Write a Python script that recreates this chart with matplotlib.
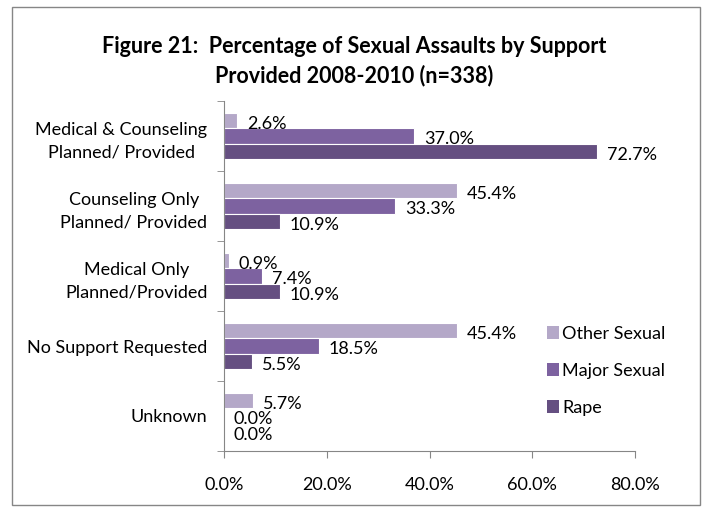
import numpy as np
import matplotlib
matplotlib.use("Agg")
import matplotlib.pyplot as plt
from matplotlib.patches import Patch, Rectangle

# -----------------------------
# Data
# -----------------------------
categories = [
    "Medical & Counseling\nPlanned/ Provided",
    "Counseling Only\nPlanned/ Provided",
    "Medical Only\nPlanned/Provided",
    "No Support Requested",
    "Unknown",
]
series_names = ["Other Sexual", "Major Sexual", "Rape"]
other_sexual = [2.6, 45.4, 0.9, 45.4, 5.7]
major_sexual = [37.0, 33.3, 7.4, 18.5, 0.0]
rape = [72.7, 10.9, 10.9, 5.5, 0.0]
x_ticks = [0, 20, 40, 60, 80]

colors = ["#B4A8C8", "#7D62A0", "#654F81"]
axis_grey = "#868686"

plt.rcParams["font.family"] = ["Lato", "DejaVu Sans"]

fig = plt.figure(figsize=(7.09, 5.12), dpi=100)
W, H = 709, 512
ax = fig.add_axes([224 / W, 1 - 451 / H, (635 - 224) / W, (451 - 101) / H])

# chart area border
fig.patches.append(Rectangle((12 / W, 1 - 505 / H), (700 - 12) / W, (505 - 7) / H,
                             transform=fig.transFigure, fill=False,
                             edgecolor=axis_grey, linewidth=1))

y = np.arange(len(categories))
h = 0.22
for k, (vals, name) in enumerate(zip([other_sexual, major_sexual, rape], series_names)):
    pos = y + (k - 1) * h
    ax.barh(pos, vals, height=h, color=colors[k], edgecolor="white",
            linewidth=0.8, label=name)
    for p, v in zip(pos, vals):
        ax.annotate(f"{v:.1f}%", (v, p), xytext=(7, -2.5), textcoords="offset points",
                    ha="left", va="center", fontsize=13)

ax.set_xlim(0, 80)
ax.set_ylim(len(categories) - 0.5, -0.5)
ax.set_xticks(x_ticks)
ax.set_xticklabels([f"{t:.1f}%" for t in x_ticks], fontsize=13)
ax.set_yticks(y)
ax.set_yticklabels(categories, fontsize=13, linespacing=1.55)
for lbl in ax.get_yticklabels():
    lbl.set_multialignment("center")
ax.set_yticks(np.arange(-0.5, len(categories)), minor=True)
ax.tick_params(axis="y", which="major", length=0, pad=12)
ax.tick_params(axis="y", which="minor", length=5, color=axis_grey)
ax.tick_params(axis="x", length=5, color=axis_grey, pad=14)

for s in ["top", "right"]:
    ax.spines[s].set_visible(False)
for s in ["left", "bottom"]:
    ax.spines[s].set_color(axis_grey)

handles = [Patch(facecolor=c) for c in colors]
ax.legend(handles, series_names, loc="upper left", bbox_to_anchor=(0.785, 0.357),
          frameon=False, fontsize=13, handlelength=0.7, handleheight=0.7,
          handletextpad=0.15, labelspacing=1.15, borderaxespad=0, borderpad=0)

fig.text(0.5, 1 - 61 / H,
         "Figure 21:  Percentage of Sexual Assaults by Support\nProvided 2008-2010 (n=338)",
         ha="center", va="center", fontsize=15.5, fontweight="bold", linespacing=1.4)

fig.savefig("out.png", dpi=100)
